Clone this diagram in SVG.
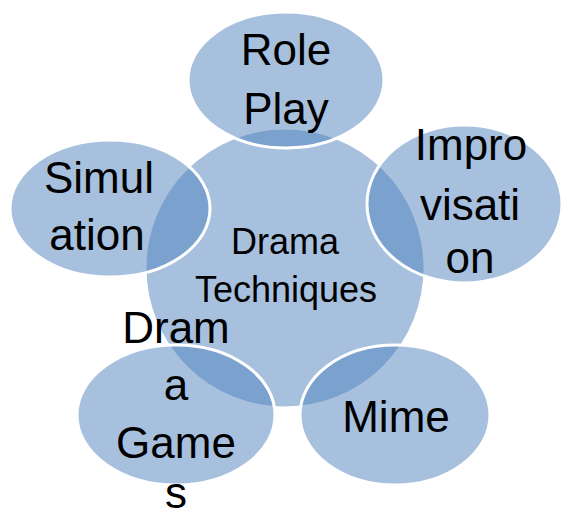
<svg xmlns="http://www.w3.org/2000/svg" width="562" height="520" viewBox="0 0 562 520">
<style>
.shape{fill:#4F81BD;fill-opacity:0.5;stroke:#FFFFFF;stroke-width:3}
.lbl{font-family:"Liberation Sans",Arial,sans-serif;font-size:44px;fill:#000000;text-anchor:middle}
.ctr{font-family:"Liberation Sans",Arial,sans-serif;font-size:36px;fill:#000000;text-anchor:middle}
</style>
<rect width="562" height="520" fill="#FFFFFF"/>
<g id="center">
<circle class="shape" cx="285" cy="268" r="140"/>
</g>
<g id="role-play">
<ellipse class="shape" cx="286" cy="80" rx="98" ry="68"/>
</g>
<g id="improvisation">
<ellipse class="shape" cx="464.5" cy="204" rx="97.5" ry="79"/>
</g>
<g id="simulation">
<ellipse class="shape" cx="110" cy="208.5" rx="100" ry="68.5"/>
</g>
<g id="drama-games">
<ellipse class="shape" cx="176" cy="415" rx="99" ry="70"/>
</g>
<g id="mime">
<ellipse class="shape" cx="395" cy="415" rx="95" ry="70"/>
</g>
<g id="labels">
<text class="ctr" x="285" y="254">Drama</text>
<text class="ctr" x="286" y="302">Techniques</text>
<text class="lbl" x="286" y="65">Role</text>
<text class="lbl" x="286" y="124">Play</text>
<text class="lbl" x="471" y="160">Impro</text>
<text class="lbl" x="470" y="220">visati</text>
<text class="lbl" x="470" y="273">on</text>
<text class="lbl" x="99" y="193">Simul</text>
<text class="lbl" x="97" y="250">ation</text>
<text class="lbl" x="176" y="343">Dram</text>
<text class="lbl" x="176" y="400">a</text>
<text class="lbl" x="176" y="458">Game</text>
<text class="lbl" x="176" y="508">s</text>
<text class="lbl" x="396" y="432">Mime</text>
</g>
</svg>
